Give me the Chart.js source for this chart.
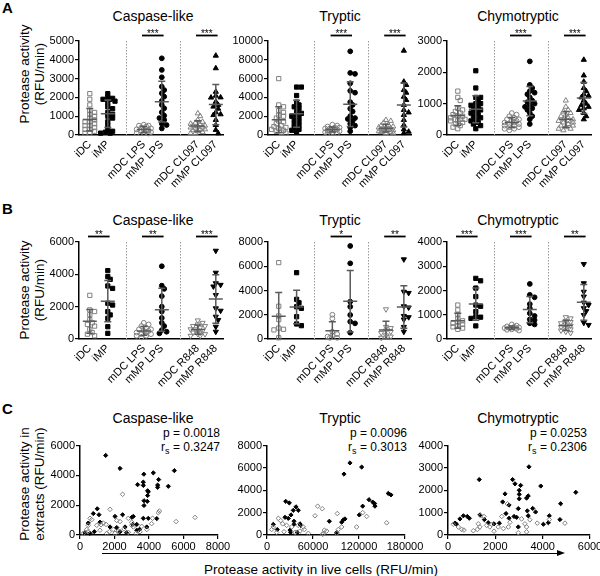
<!DOCTYPE html>
<html>
<head>
<meta charset="utf-8">
<script src="https://cdn.jsdelivr.net/npm/chart.js@4.4.1/dist/chart.umd.min.js"></script>
<style>
  body { margin: 0; width: 600px; height: 576px; position: relative; background: #fff; overflow: hidden; }
  .t { position: absolute; font-family: "Liberation Sans", Arial, sans-serif; color: #000; white-space: nowrap; }
  .title { font-size: 14px; transform: translate(-50%, -50%); }
  .letter { font-size: 15px; font-weight: bold; transform: translateY(-50%); }
  .ytitle { font-size: 13.5px; line-height: 15px; text-align: center; transform: translate(-50%, -50%) rotate(-90deg); }
  .stat { font-size: 12px; transform: translate(-100%, -50%); }
  .stat sub { font-size: 9px; }
</style>
</head>
<body>
<div class="t letter" style="left:2px;top:7px">A</div>
<div class="t letter" style="left:2px;top:208px">B</div>
<div class="t letter" style="left:2px;top:408px">C</div>

<div class="t title" style="left:153px;top:16px">Caspase-like</div>
<div class="t title" style="left:340px;top:16px">Tryptic</div>
<div class="t title" style="left:518px;top:16px">Chymotryptic</div>
<div class="t title" style="left:153px;top:220px">Caspase-like</div>
<div class="t title" style="left:340px;top:220px">Tryptic</div>
<div class="t title" style="left:518px;top:220px">Chymotryptic</div>
<div class="t title" style="left:153px;top:418px">Caspase-like</div>
<div class="t title" style="left:340px;top:418px">Tryptic</div>
<div class="t title" style="left:518px;top:418px">Chymotryptic</div>

<div class="t ytitle" style="left:32px;top:74px">Protease activity<br>(RFU/min)</div>
<div class="t ytitle" style="left:32px;top:290px">Protease activity<br>(RFU/min)</div>
<div class="t ytitle" style="left:32px;top:484px">Protease activity in<br>extracts (RFU/min)</div>

<div class="t stat" style="left:220px;top:433px">p = 0.0018</div>
<div class="t stat" style="left:220px;top:448px">r<sub>s</sub> = 0.3247</div>
<div class="t stat" style="left:407px;top:433px">p = 0.0096</div>
<div class="t stat" style="left:407px;top:448px">r<sub>s</sub> = 0.3013</div>
<div class="t stat" style="left:587px;top:433px">p = 0.0253</div>
<div class="t stat" style="left:587px;top:448px">r<sub>s</sub> = 0.2306</div>

<div style="position:absolute;left:102px;top:553px;width:456px;height:0;border-top:1.5px solid #000"></div>
<div style="position:absolute;left:557px;top:550px;width:0;height:0;border-left:8px solid #000;border-top:3.5px solid transparent;border-bottom:3.5px solid transparent"></div>
<div class="t" style="left:321px;top:569px;font-size:13.5px;transform:translate(-50%,-50%)">Protease activity in live cells (RFU/min)</div>

<script>
// group names
const labelsA = ["iDC", "iMP", "mDC LPS", "mMP LPS", "mDC CL097", "mMP CL097"];
const labelsB = ["iDC", "iMP", "mDC LPS", "mMP LPS", "mDC R848", "mMP R848"];

// A: protease activity in extracts, one list per group
const aCaspase = [
    [2200, 1900, 1600, 1300, 1200, 1100, 1000, 900, 800, 700, 700, 600, 500, 500, 400, 300, 300, 200, 100, 100],
    [2200, 2000, 1950, 1900, 1900, 1800, 1700, 1500, 1400, 1200, 1100, 1000, 900, 700, 500, 300, 200, 150, 100, 100],
    [550, 500, 500, 450, 400, 350, 300, 300, 250, 200, 200, 150, 100, 100, 80],
    [4080, 3460, 3070, 2570, 2390, 2220, 2040, 1810, 1600, 1420, 1210, 1030, 900, 800, 600, 530, 350],
    [1150, 1000, 800, 700, 650, 600, 550, 500, 500, 450, 400, 400, 350, 300, 300, 250, 200, 150, 100, 100],
    [4220, 3550, 2300, 2090, 2000, 1990, 1770, 1600, 1510, 1400, 1210, 1100, 1060, 800, 530, 270, 90]
];
const aTryptic = [
    [6000, 3200, 3000, 2600, 2400, 2100, 2000, 1800, 1500, 1400, 1200, 1000, 900, 800, 700, 600, 500, 400, 300, 200],
    [5100, 5100, 4200, 3500, 3200, 3000, 2800, 2500, 2300, 2100, 2000, 1800, 1600, 1400, 1200, 1000, 800, 600, 500, 300],
    [1100, 1000, 900, 800, 800, 700, 700, 600, 600, 500, 500, 400, 400, 300, 300, 200, 200],
    [8900, 6600, 6500, 5500, 4700, 4500, 3500, 3200, 2800, 2500, 2000, 1800, 1700, 1500, 1200, 1000, 800, 400],
    [1600, 1500, 1300, 1100, 1000, 900, 800, 800, 700, 700, 600, 600, 500, 500, 400, 400, 300, 300, 200, 200],
    [8970, 5670, 5320, 4790, 4500, 4070, 3720, 3200, 2660, 2400, 2130, 1600, 1060, 600, 350, 200]
];
const aChymo = [
    [1400, 1200, 1100, 850, 800, 750, 700, 650, 600, 600, 550, 500, 500, 500, 450, 450, 400, 350, 300, 250, 200],
    [2050, 1500, 1200, 1200, 1100, 1000, 1000, 950, 900, 850, 800, 750, 700, 650, 600, 550, 500, 450, 400, 350, 300, 200],
    [700, 650, 600, 550, 500, 500, 450, 450, 400, 400, 350, 350, 300, 300, 250, 250, 200, 200, 150],
    [2350, 1600, 1500, 1400, 1350, 1300, 1200, 1100, 1050, 1000, 950, 900, 850, 800, 700, 600, 500, 350],
    [1100, 900, 800, 750, 700, 650, 600, 550, 500, 500, 450, 450, 400, 400, 350, 300, 300, 250, 200, 200, 150],
    [2400, 1900, 1700, 1500, 1400, 1300, 1250, 1200, 1100, 1000, 950, 900, 850, 800, 700, 600, 500]
];

// B
const bCaspase = [
    [2700, 1800, 1700, 1500, 1200, 1000, 900, 800, 600, 400, 300, 200],
    [4230, 3860, 3690, 3280, 3130, 2210, 2100, 1690, 1490, 1280, 760, 350],
    [1000, 900, 800, 700, 600, 600, 500, 500, 400, 400, 300, 300, 200, 200, 100],
    [4500, 3300, 3100, 2650, 2000, 1700, 1300, 1000, 800, 550, 450, 350],
    [1150, 1000, 900, 800, 800, 700, 600, 600, 500, 500, 400, 400, 300, 300, 200, 200],
    [5460, 4100, 3450, 3350, 3250, 2720, 1900, 1750, 1380, 1180, 760, 450]
];
const bTryptic = [
    [6300, 2700, 1900, 1600, 900, 800, 750, 100],
    [5470, 3270, 2990, 2660, 2530, 1840, 1240, 1100],
    [2000, 1700, 600, 400, 300, 200, 100, 100],
    [7670, 6240, 3080, 2660, 1980, 1430, 1290, 520],
    [2450, 1000, 900, 700, 600, 500, 300, 200, 100],
    [6570, 3900, 3800, 2700, 2600, 1900, 1800, 1600, 1000, 600]
];
const bChymo = [
    [1400, 1200, 1000, 850, 750, 700, 650, 600, 550, 500, 450, 400],
    [2500, 2400, 2100, 1750, 1400, 1350, 1130, 920, 900, 850, 540],
    [600, 550, 520, 500, 480, 450, 450, 420, 400, 380, 350],
    [2270, 1820, 1720, 1440, 1270, 1060, 950, 810, 780, 650, 600],
    [900, 850, 750, 700, 650, 600, 550, 500, 450, 400, 350, 300, 250],
    [3090, 2300, 1950, 1750, 1500, 1400, 1270, 1150, 990, 670, 580]
];

// significance per pair (iDC/iMP, LPS, CL097 or R848)
const aStars = [null, "***", "***"];
const bCaspaseStars = ["**", "**", "***"];
const bTrypticStars = [null, "*", "**"];
const bChymoStars = ["***", "***", "**"];

// y axis [max, step]
const aTicks = [[5000, 1000], [10000, 2000], [3000, 1000]];
const bTicks = [[6000, 2000], [8000, 2000], [4000, 1000]];

// C: [live cells, extracts]; filled = macrophages, open = DCs
const cCaspFilled = [[1490,5340],[2320,4470],[3700,4080],[4250,4170],[4560,3720],[3340,3380],[3670,3550],[3670,3330],[3920,2970],[3960,2900],[4500,3350],[4500,3200],[5120,3270],[5470,4320],[3920,2650],[3710,2300],[3900,2260],[3710,1980],[1000,1760],[770,1440],[1100,1360],[2030,1250],[2470,1360],[3090,1250],[3000,1180],[3670,1120],[3960,1120],[4450,1100],[480,800],[2130,500],[2610,540],[2700,150],[3290,320],[3440,370],[1160,860],[290,150],[580,110],[830,220],[1740,540],[2320,220],[3050,710],[3290,710],[3870,540]];
const cCaspOpen = [[2470,2730],[1740,1720],[4600,1610],[4540,1500],[4210,1120],[6670,1180],[5570,900],[580,1120],[680,1030],[480,650],[970,650],[1220,690],[1350,800],[1510,710],[2130,970],[2320,900],[2800,1120],[3000,650],[3090,540],[3580,580],[3870,370],[1700,220],[1930,370],[2030,110],[2220,260],[2550,410],[2800,180],[3250,110],[3480,220],[390,370],[190,110],[1550,110],[3000,860],[4150,760],[1160,320],[460,220]];
const cTrypFilled = [[100400,5450],[108200,6450],[123500,6080],[158200,3720],[161700,3590],[133000,3160],[137800,2950],[140400,2810],[140800,2580],[124800,2580],[120400,1800],[101700,1440],[97400,1150],[99500,1350],[81300,1230],[90900,230],[24400,3010],[29100,2870],[37800,2520],[40800,2210],[34300,2210],[31300,1800],[23500,1580],[27800,1490],[35200,1230],[43000,1000],[43900,860],[8200,950],[13400,490],[30000,430],[30900,230],[39500,230],[35200,950]];
const cTrypOpen = [[66100,2580],[72100,2350],[62600,1720],[91700,1920],[124800,2000],[130000,1660],[156100,1090],[116900,720],[97400,720],[48700,490],[53900,150],[73400,150],[74800,430],[77800,350],[72600,60],[14800,1490],[17800,1290],[8200,720],[6100,490],[20400,1000],[25600,860],[32200,720],[40800,860],[47300,720],[36500,230],[22200,290],[12600,230],[43000,350],[90900,150],[93000,490]];
const cChymFilled = [[3420,3050],[1320,2480],[2730,2480],[2830,2290],[3070,2220],[3920,2190],[5400,1910],[3010,2000],[2410,1840],[3010,1820],[3320,1650],[3390,1750],[3010,1620],[2310,1480],[4760,1400],[2580,1340],[3580,1190],[2970,1180],[3700,1030],[3350,1080],[2450,960],[1350,900],[650,860],[815,830],[900,750],[505,720],[295,530],[365,480],[1535,690],[1700,550],[1945,500],[2170,530],[2580,750],[2790,830],[2900,790],[3390,860],[4030,480],[4240,550],[4280,860],[4730,690],[2970,360]];
const cChymOpen = [[1380,860],[1520,830],[2510,1390],[2270,830],[2620,570],[3110,720],[3250,500],[3460,680],[3770,530],[3320,360],[2550,360],[2340,290],[2120,360],[2970,100],[3320,140],[4940,530],[4280,690],[225,480],[435,360],[580,250],[675,220],[1070,190],[1240,250],[1350,360],[1630,430],[1770,360],[1845,480],[1945,170],[1280,500]];

// C axes [xMax, xStep, yMax, yStep]
const cAxes = [[8000, 2000, 6000, 2000], [180000, 60000, 8000, 2000], [6000, 2000, 4000, 1000]];

Chart.defaults.font.family = '"Liberation Sans", Arial, sans-serif';
Chart.defaults.color = '#000';

const groupPos = [0, 1, 3, 4, 6, 7];
const markers = [
    { style: 'rect', fill: false }, { style: 'rect', fill: true },
    { style: 'circle', fill: false }, { style: 'circle', fill: true },
    { style: 'triangle', fill: false }, { style: 'triangle', fill: true }
];

function addCanvas(left, top, w, h) {
    const c = document.createElement('canvas');
    c.width = w;
    c.height = h;
    c.style.cssText = `position:absolute;left:${left}px;top:${top}px;width:${w}px;height:${h}px`;
    document.body.appendChild(c);
    return c;
}

// spread overlapping dots sideways a little, like a column scatter
function swarm(values, pxPerVal, unitPx) {
    const size = 3.6;
    const placed = [];
    const offs = new Array(values.length).fill(0);
    const order = values.map((v, i) => i).sort((a, b) => values[b] - values[a]);
    const cands = [0];
    for (let k = 1; k <= 3; k++) cands.push(k * 2.4, -k * 2.4);
    order.forEach(i => {
        const py = values[i] * pxPerVal;
        let best = 0, bestGap = -1;
        for (const c of cands) {
            const gap = Math.min(Infinity, ...placed.map(p => Math.hypot(p.x - c, p.y - py)));
            if (gap >= size) { best = c; bestGap = gap; break; }
            if (gap > bestGap) { best = c; bestGap = gap; }
        }
        placed.push({ x: best, y: py });
        offs[i] = best / unitPx;
    });
    return offs;
}

const meanSd = {
    id: 'meanSd',
    afterDatasetsDraw(chart) {
        const { ctx, scales: { x, y } } = chart;
        ctx.save();
        ctx.strokeStyle = '#5a5a5a';
        ctx.lineWidth = 1.5;
        chart.data.datasets.forEach(ds => {
            if (!ds.values) return;
            const n = ds.values.length;
            const mean = ds.values.reduce((s, v) => s + v, 0) / n;
            const sd = Math.sqrt(ds.values.reduce((s, v) => s + (v - mean) ** 2, 0) / (n - 1));
            const cx = x.getPixelForValue(ds.groupPos);
            const ym = y.getPixelForValue(mean);
            const yt = y.getPixelForValue(mean + sd);
            const yb = y.getPixelForValue(Math.max(mean - sd, 0));
            ctx.beginPath();
            ctx.moveTo(cx - 7, ym); ctx.lineTo(cx + 7, ym);
            ctx.moveTo(cx, yt); ctx.lineTo(cx, yb);
            ctx.moveTo(cx - 3.5, yt); ctx.lineTo(cx + 3.5, yt);
            if (mean - sd > 0) { ctx.moveTo(cx - 3.5, yb); ctx.lineTo(cx + 3.5, yb); }
            ctx.stroke();
        });
        ctx.restore();
    }
};

const groupDeco = {
    id: 'groupDeco',
    beforeDatasetsDraw(chart, args, opts) {
        const { ctx, chartArea, scales: { x } } = chart;
        ctx.save();
        ctx.strokeStyle = '#9a9a9a';
        ctx.lineWidth = 1;
        ctx.setLineDash([1.5, 1.5]);
        (opts.separators || []).forEach(v => {
            const px = Math.round(x.getPixelForValue(v)) + 0.5;
            ctx.beginPath();
            ctx.moveTo(px, chartArea.top);
            ctx.lineTo(px, chartArea.bottom);
            ctx.stroke();
        });
        ctx.restore();
    },
    afterDraw(chart, args, opts) {
        const { ctx, chartArea, scales: { x } } = chart;
        ctx.save();
        ctx.fillStyle = '#000';
        ctx.strokeStyle = '#000';
        ctx.lineWidth = 1.8;
        ctx.font = '10px "Liberation Sans", Arial, sans-serif';
        ctx.textAlign = 'center';
        ctx.textBaseline = 'alphabetic';
        (opts.stars || []).forEach((s, k) => {
            if (!s) return;
            const x1 = x.getPixelForValue(groupPos[2 * k] - 0.1);
            const x2 = x.getPixelForValue(groupPos[2 * k + 1] + 0.1);
            const ly = chartArea.top - 5.5;
            ctx.beginPath();
            ctx.moveTo(x1, ly); ctx.lineTo(x2, ly);
            ctx.stroke();
            ctx.fillText(s, (x1 + x2) / 2, chartArea.top - 4);
        });
        ctx.restore();
    }
};

const axisLefts = [79, 268, 447];
const axisRights = [223, 411, 591];

function dotPlot(col, top, bottom, groups, labels, ticks, stars, inverted) {
    const YW = 42, PT = 24, PR = 6, XH = 60;
    const left = axisLefts[col] - YW;
    const cTop = top - PT;
    const w = axisRights[col] - left + PR;
    const h = bottom - cTop + XH;
    const xMin = -0.6, xMax = 7.4;
    const unitPx = (axisRights[col] - axisLefts[col]) / (xMax - xMin);
    const pxPerVal = (bottom - top) / ticks[0];

    const datasets = groups.map((vals, g) => {
        const offs = swarm(vals, pxPerVal, unitPx);
        const m = markers[g];
        return {
            data: vals.map((v, i) => ({ x: groupPos[g] + offs[i], y: v })),
            pointStyle: m.style,
            rotation: inverted && g >= 4 ? 180 : 0,
            pointRadius: m.style === 'circle' ? 2.4 : 3,
            pointHoverRadius: 3,
            backgroundColor: m.fill ? '#000' : 'rgba(255,255,255,0)',
            borderColor: m.fill ? '#000' : '#808080',
            borderWidth: 1,
            clip: false,
            groupPos: groupPos[g],
            values: vals
        };
    });

    new Chart(addCanvas(left, cTop, w, h), {
        type: 'scatter',
        data: { datasets: datasets },
        options: {
            responsive: false,
            animation: false,
            devicePixelRatio: 1,
            layout: { padding: { top: PT, right: PR, left: 0, bottom: 0 } },
            plugins: {
                legend: { display: false },
                tooltip: { enabled: false },
                groupDeco: { separators: [2, 5], stars: stars }
            },
            scales: {
                x: {
                    type: 'linear', min: xMin, max: xMax,
                    afterBuildTicks: s => { s.ticks = groupPos.map(v => ({ value: v })); },
                    afterFit: s => { s.height = XH; },
                    grid: { display: false, drawTicks: false },
                    border: { color: '#000', width: 1.5 },
                    ticks: {
                        autoSkip: false, minRotation: 45, maxRotation: 45, padding: 3,
                        font: { size: 11 }, color: '#000',
                        callback: (v, i) => labels[i]
                    }
                },
                y: {
                    min: 0, max: ticks[0],
                    afterFit: s => { s.width = YW; },
                    grid: { display: true, drawOnChartArea: false, drawTicks: true, tickLength: 4, color: '#000', lineWidth: 1.2 },
                    border: { color: '#000', width: 1.5 },
                    ticks: { stepSize: ticks[1], padding: 1, font: { size: 11 }, color: '#000', callback: v => String(v) }
                }
            }
        },
        plugins: [groupDeco, meanSd]
    });
}

dotPlot(0, 41, 135, aCaspase, labelsA, aTicks[0], aStars, false);
dotPlot(1, 41, 135, aTryptic, labelsA, aTicks[1], aStars, false);
dotPlot(2, 41, 135, aChymo, labelsA, aTicks[2], aStars, false);
dotPlot(0, 242, 339, bCaspase, labelsB, bTicks[0], bCaspaseStars, true);
dotPlot(1, 242, 339, bTryptic, labelsB, bTicks[1], bTrypticStars, true);
dotPlot(2, 242, 339, bChymo, labelsB, bTicks[2], bChymoStars, true);

const cLefts = [80, 267, 448];
const cRights = [218, 405, 590];

function corrPlot(col, filled, open, axes) {
    const YW = 42, PT = 4, PR = 22, XH = 22;
    const top = 442, bottom = 535;
    const left = cLefts[col] - YW;
    const cTop = top - PT;
    const w = cRights[col] - left + PR;
    const h = bottom - cTop + XH;
    const toPts = arr => arr.map(p => ({ x: p[0], y: p[1] }));
    new Chart(addCanvas(left, cTop, w, h), {
        type: 'scatter',
        data: {
            datasets: [
                { data: toPts(open), pointStyle: 'rectRot', pointRadius: 2.3, borderWidth: 1,
                  backgroundColor: 'rgba(255,255,255,0)', borderColor: '#808080', clip: false },
                { data: toPts(filled), pointStyle: 'rectRot', pointRadius: 2.1, borderWidth: 1,
                  backgroundColor: '#000', borderColor: '#000', clip: false }
            ]
        },
        options: {
            responsive: false,
            animation: false,
            devicePixelRatio: 1,
            layout: { padding: { top: PT, right: PR, left: 0, bottom: 0 } },
            plugins: { legend: { display: false }, tooltip: { enabled: false } },
            scales: {
                x: {
                    min: 0, max: axes[0],
                    afterFit: s => { s.height = XH; },
                    grid: { display: true, drawOnChartArea: false, drawTicks: true, tickLength: 4, color: '#000', lineWidth: 1.2 },
                    border: { color: '#000', width: 1.5 },
                    ticks: { stepSize: axes[1], padding: 1, maxRotation: 0, font: { size: 11 }, color: '#000', callback: v => String(v) }
                },
                y: {
                    min: 0, max: axes[2],
                    afterFit: s => { s.width = YW; },
                    grid: { display: true, drawOnChartArea: false, drawTicks: true, tickLength: 4, color: '#000', lineWidth: 1.2 },
                    border: { color: '#000', width: 1.5 },
                    ticks: { stepSize: axes[3], padding: 1, font: { size: 11 }, color: '#000', callback: v => String(v) }
                }
            }
        }
    });
}

corrPlot(0, cCaspFilled, cCaspOpen, cAxes[0]);
corrPlot(1, cTrypFilled, cTrypOpen, cAxes[1]);
corrPlot(2, cChymFilled, cChymOpen, cAxes[2]);
</script>
</body>
</html>
